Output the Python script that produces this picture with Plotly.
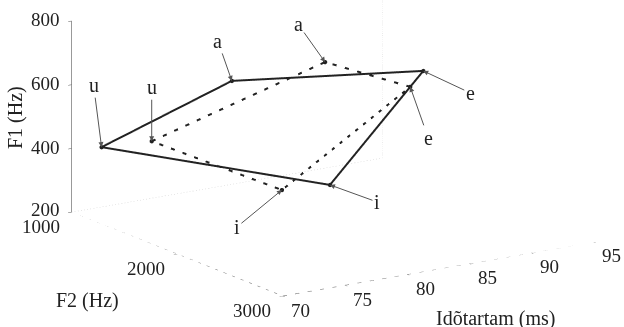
import plotly.graph_objects as go

vowels = ["u", "a", "e", "i"]
# Solid series
f2_solid = [1049, 1341, 1506, 1917]
dur_solid = [72, 80, 94, 83]
f1_solid = [397, 589, 547, 318]
# Dashed series
f2_dashed = [1053, 1282, 1500, 1815]
dur_dashed = [76, 88, 93, 80]
f1_dashed = [389, 586, 503, 309]

f2_range = [1000, 3000]
dur_range = [70, 95]
f1_range = [200, 800]
f2_ticks = [1000, 2000, 3000]
dur_ticks = [70, 75, 80, 85, 90, 95]
f1_ticks = [200, 400, 600, 800]

# label offsets (pixels) for the arrows
solid_off = [(-8, -62), (-14, -40), (47, 22), (47, 17)]
dashed_off = [(0, -54), (-27, -38), (18, 51), (-45, 37)]

FONT = "Liberation Serif"
TXT = "#222"

def closed(v):
    return list(v) + [v[0]]

fig = go.Figure()
# faint back edges of the box
fig.add_trace(go.Scatter3d(
    x=[f2_range[0], f2_range[0], f2_range[0]],
    y=[dur_range[0], dur_range[1], dur_range[1]],
    z=[f1_range[0], f1_range[0], f1_range[1]],
    mode="lines", line=dict(color="#d4d4d4", width=1, dash="dot"),
    hoverinfo="skip", showlegend=False))
# front floor axes (dotted grey)
fig.add_trace(go.Scatter3d(
    x=[f2_range[0], f2_range[1], f2_range[1]],
    y=[dur_range[0], dur_range[0], dur_range[1]],
    z=[f1_range[0], f1_range[0], f1_range[0]],
    mode="lines", line=dict(color="#8a8a8a", width=1.5, dash="dash"),
    hoverinfo="skip", showlegend=False))
fig.add_trace(go.Scatter3d(
    x=closed(f2_solid), y=closed(dur_solid), z=closed(f1_solid),
    mode="lines+markers", line=dict(color="#222", width=4),
    marker=dict(size=2.5, color="#222"), showlegend=False))
fig.add_trace(go.Scatter3d(
    x=closed(f2_dashed), y=closed(dur_dashed), z=closed(f1_dashed),
    mode="lines+markers", line=dict(color="#222", width=4, dash="dash"),
    marker=dict(size=2.5, color="#222"), showlegend=False))

anns = []
for series, off in ((zip(f2_solid, dur_solid, f1_solid), solid_off),
                    (zip(f2_dashed, dur_dashed, f1_dashed), dashed_off)):
    for (x, y, z), name, (ax, ay) in zip(series, vowels, off):
        anns.append(dict(x=x, y=y, z=z, text=name, showarrow=True,
                         ax=ax, ay=ay, arrowhead=2, arrowsize=1,
                         arrowwidth=1, arrowcolor="#555",
                         font=dict(family=FONT, size=20, color=TXT)))

tickfont = dict(family=FONT, size=19, color=TXT)
# horizontal tick labels placed at the tick positions
for v in f1_ticks:
    anns.append(dict(x=f2_range[0], y=dur_range[0], z=v, text=str(v),
                     showarrow=False, xshift=-26, yshift=1 if v != 200 else 3,
                     font=tickfont))
for v in f2_ticks:
    anns.append(dict(x=v, y=dur_range[0], z=f1_range[0], text=str(v),
                     showarrow=False, xshift=-31, yshift=-14, font=tickfont))
for v in dur_ticks:
    anns.append(dict(x=f2_range[1], y=v, z=f1_range[0], text=str(v),
                     showarrow=False, xshift=18, yshift=-14, font=tickfont))

axis_common = dict(showbackground=False, showgrid=False, zeroline=False,
                   linewidth=1,
                   ticks="outside", tickcolor="#555", ticklen=4,
                   showspikes=False, title=dict(text=""),
                   showticklabels=False)

s = 2.34
fig.update_layout(
    width=624, height=327,
    margin=dict(l=0, r=0, t=0, b=0),
    paper_bgcolor="white",
    scene=dict(
        domain=dict(x=[0, 1], y=[0, 1]),
        xaxis=dict(range=f2_range, tickvals=f2_ticks, showline=False, **axis_common),
        yaxis=dict(range=dur_range, tickvals=dur_ticks, showline=False, **axis_common),
        zaxis=dict(range=f1_range, tickvals=f1_ticks, showline=True,
                   linecolor="#333", **axis_common),
        aspectmode="manual",
        aspectratio=dict(x=1 * s, y=0.974 * s, z=0.518 * s),
        camera=dict(eye=dict(x=3.194, y=-2.265, z=0.863),
                    center=dict(x=-0.0263, y=-0.133, z=-0.189),
                    up=dict(x=0, y=0, z=1),
                    projection=dict(type="orthographic")),
        annotations=anns,
    ),
    annotations=[
        dict(text="F1 (Hz)", x=15 / 624, y=1 - 118 / 327, xref="paper", yref="paper",
             xanchor="center", yanchor="middle", showarrow=False, textangle=-90,
             font=dict(family=FONT, size=20, color=TXT)),
        dict(text="F2 (Hz)", x=87 / 624, y=1 - 300 / 327, xref="paper", yref="paper",
             xanchor="center", yanchor="middle", showarrow=False,
             font=dict(family=FONT, size=20, color=TXT)),
        dict(text="Idõtartam (ms)", x=495 / 624, y=1 - 318 / 327, xref="paper", yref="paper",
             xanchor="center", yanchor="middle", showarrow=False,
             font=dict(family=FONT, size=20, color=TXT)),
    ],
)

fig.write_html("out.html", config={"displayModeBar": False},
               post_script="document.body.style.margin='0';")
